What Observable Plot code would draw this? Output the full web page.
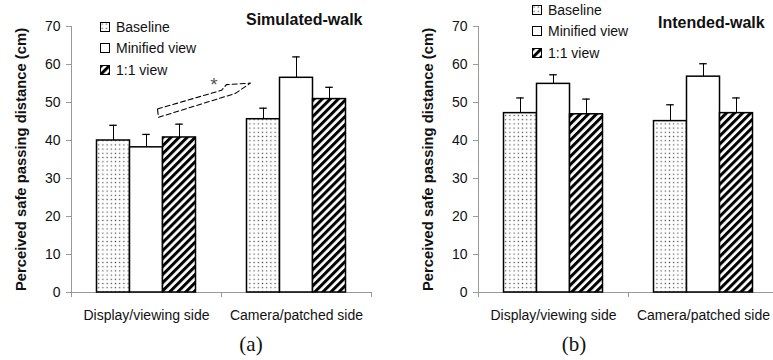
<!DOCTYPE html>
<html>
<head>
<meta charset="utf-8">
<script src="https://cdn.jsdelivr.net/npm/d3@7"></script>
<script src="https://cdn.jsdelivr.net/npm/@observablehq/plot@0.6"></script>
<style>
  html, body { margin: 0; padding: 0; background: #fff; overflow: hidden; }
  #root { position: relative; width: 773px; height: 360px; overflow: hidden; font-family: "Liberation Sans", Arial, sans-serif; color: #111; }
  .panel { position: absolute; top: 0; }
  .panel svg { overflow: visible; max-width: none !important; display: block; }
  .title { position: absolute; font-weight: bold; font-size: 16px; line-height: 1; white-space: nowrap; }
  .cap { position: absolute; font-family: "Liberation Serif", "Times New Roman", serif; font-size: 21px; line-height: 1; transform: translateX(-50%); }
  .legend { position: absolute; font-size: 14px; line-height: 1; }
  .legend .row { display: flex; align-items: center; height: 21.5px; white-space: nowrap; }
  .legend svg { margin-right: 6px; }
  g[aria-label="y-axis tick"] path, g[aria-label="x-axis tick"] path,
  g[aria-label="y-axis"] line, g[aria-label="x-axis"] line, g[aria-label="y-axis"] path.domain, g[aria-label="x-axis"] path.domain { stroke: #999; }
  g[aria-label="y-axis tick label"] text, g[aria-label="y-axis"] text { fill: #111; }
</style>
</head>
<body>
<svg width="0" height="0" style="position:absolute">
  <defs>
    <pattern id="dots" patternUnits="userSpaceOnUse" width="4.2" height="4.2">
      <rect width="4.2" height="4.2" fill="white"/>
      <rect x="1.5" y="1.5" width="1.2" height="1.2" fill="#444"/>
    </pattern>
    <pattern id="stripes" patternUnits="userSpaceOnUse" width="5.7" height="5.7" patternTransform="rotate(45)">
      <rect width="5.7" height="5.7" fill="white"/>
      <rect width="3" height="5.7" fill="black"/>
    </pattern>
  </defs>
</svg>
<div id="root"></div>
<script>
// ---------- data ----------
const sides = ["Display/viewing side", "Camera/patched side"];
const conditions = ["Baseline", "Minified view", "1:1 view"];
const yTicks = [0, 10, 20, 30, 40, 50, 60, 70];
const yLabel = "Perceived safe passing distance (cm)";

// Simulated-walk (a): means per condition, one value per side
const simBaseline = [40.0, 45.6];
const simMinified = [38.2, 56.5];
const simOneToOne = [40.8, 50.9];
// error bar (upper) lengths
const simBaselineErr = [4.0, 2.9];
const simMinifiedErr = [3.4, 5.5];
const simOneToOneErr = [3.5, 3.1];

// Intended-walk (b)
const intBaseline = [47.2, 45.1];
const intMinified = [54.9, 56.8];
const intOneToOne = [46.9, 47.2];
const intBaselineErr = [4.0, 4.3];
const intMinifiedErr = [2.4, 3.4];
const intOneToOneErr = [4.0, 4.0];

// annotation: dashed block arrow between the two minified conditions (data units)
const arrowX = [0.573, 1.0, 1.033, 1.193, 1.093, 0.58, 0.573];
const arrowY = [48.3, 53.2, 54.7, 55.1, 52.4, 46.1, 48.3];
const starMark = {x: 0.949, y: 54.6, text: "*"};

// ---------- helpers ----------
function table(means, errs) {
  const rows = [];
  sides.forEach((s, i) => {
    conditions.forEach((c, j) => {
      rows.push({side: s, si: i, cond: c, ci: j, value: means[j][i], err: means[j][i] + errs[j][i]});
    });
  });
  return rows;
}
const groupPad = 0.17, barW = 0.22;
const left = d => d.si + groupPad + d.ci * barW;
const mid = d => left(d) + barW / 2;

function panel({rows, width, marginLeft, marginRight, annotate}) {
  const marks = [
    Plot.ruleY([0], {stroke: "#999"}),
    Plot.ruleX([0], {y1: 0, y2: 70, stroke: "#999"}),
    Plot.ruleX(rows, {x: mid, y1: "value", y2: "err", stroke: "black", strokeWidth: 1}),
    Plot.ruleY(rows, {y: "err", x1: d => mid(d) - 0.025, x2: d => mid(d) + 0.025, stroke: "black", strokeWidth: 1.3}),
    Plot.rectY(rows, {x1: left, x2: d => left(d) + barW, y: "value", fill: "cond", stroke: "black", strokeWidth: 1.5}),
    Plot.text(sides, {x: (d, i) => i + 0.5, y: 0, dy: 23, text: d => d, fontSize: 14, fill: "#111"}),
    Plot.text([yLabel], {frameAnchor: "left", textAnchor: "middle", rotate: -90, dx: -50, fontWeight: "bold", fontSize: 14.8, fill: "#111"})
  ];
  if (annotate) {
    marks.push(Plot.line(arrowX.map((x, i) => ({x, y: arrowY[i]})), {x: "x", y: "y", stroke: "black", strokeWidth: 1.1, strokeDasharray: "5,3"}));
    marks.push(Plot.text([starMark], {x: "x", y: "y", text: "text", fontSize: 19, fill: "#555"}));
  }
  return Plot.plot({
    width, height: 360,
    marginLeft, marginRight, marginTop: 26, marginBottom: 68,
    style: {fontFamily: "Liberation Sans, Arial, sans-serif", fontSize: "14px", background: "transparent", overflow: "visible", maxWidth: "none"},
    x: {domain: [0, 2], ticks: [0, 1, 2], tickFormat: () => "", tickSize: 5, label: null},
    y: {domain: [0, 70], ticks: yTicks, tickSize: 5, tickPadding: 6, label: null},
    color: {type: "ordinal", domain: conditions, range: ["url(#dots)", "white", "url(#stripes)"]},
    marks
  });
}

const root = document.getElementById("root");

function addPanel(plot, x, w) {
  const d = document.createElement("div");
  d.className = "panel";
  d.style.left = x + "px";
  d.style.width = w + "px";
  d.appendChild(plot);
  root.appendChild(d);
}

addPanel(panel({rows: table([simBaseline, simMinified, simOneToOne], [simBaselineErr, simMinifiedErr, simOneToOneErr]), width: 386, marginLeft: 71, marginRight: 15, annotate: true}), 0, 386);
addPanel(panel({rows: table([intBaseline, intMinified, intOneToOne], [intBaselineErr, intMinifiedErr, intOneToOneErr]), width: 392, marginLeft: 92, marginRight: 0, annotate: false}), 386, 392);

function addDiv(cls, text, x, y) {
  const d = document.createElement("div");
  d.className = cls;
  d.textContent = text;
  d.style.left = x + "px";
  d.style.top = y + "px";
  root.appendChild(d);
}
addDiv("title", "Simulated-walk", 246, 12);
addDiv("title", "Intended-walk", 658, 15);
addDiv("cap", "(a)", 251, 334);
addDiv("cap", "(b)", 574, 334);

const legendFills = ["url(#dots)", "white", "url(#stripes)"];
function addLegend(x, y) {
  const lg = document.createElement("div");
  lg.className = "legend";
  lg.style.left = x + "px";
  lg.style.top = y + "px";
  conditions.forEach((c, i) => {
    const row = document.createElement("div");
    row.className = "row";
    row.innerHTML = `<svg width="10" height="10"><rect x="0.5" y="0.5" width="9" height="9" fill="${legendFills[i]}" stroke="black" stroke-width="1"/></svg><span>${c}</span>`;
    lg.appendChild(row);
  });
  root.appendChild(lg);
}
addLegend(100, 16);
addLegend(532, -1);
</script>
</body>
</html>
